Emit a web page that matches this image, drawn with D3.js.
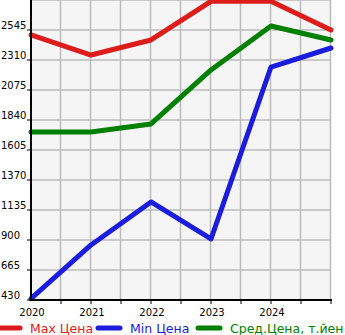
<!DOCTYPE html>
<html>
<head>
<meta charset="utf-8">
<script src="https://cdn.jsdelivr.net/npm/d3@7"></script>
<style>
  body { margin: 0; background: #fff; }
  svg { display: block; font-family: "DejaVu Sans", sans-serif; }
</style>
</head>
<body>
<div id="chart-area"></div>
<script>
// chart data
var years = [2020, 2021, 2022, 2023, 2024, 2025];
var maxPrice = [2506, 2349, 2467, 2770, 2770, 2545];
var minPrice = [440, 861, 1198, 908, 2255, 2404];
var avgPrice = [1746, 1746, 1809, 2232, 2576, 2467];
var yTicks = [430, 665, 900, 1135, 1370, 1605, 1840, 2075, 2310, 2545];
var xTickLabels = [2020, 2021, 2022, 2023, 2024];
var seriesNames = ["Max Цена", "Min Цена", "Сред.Цена, т.йен"];
var seriesColors = ["#dd1c1c", "#1c1cdd", "#008000"];

var width = 345, height = 335;
var margin = { left: 31, right: 14, top: 0, bottom: 35 };
var w = width - margin.left - margin.right,
    h = height - margin.top - margin.bottom;

var svg = d3.select("#chart-area")
    .append("svg")
        .attr("width", width)
        .attr("height", height);

var g = svg.append("g")
    .attr("transform", "translate(" + margin.left + "," + margin.top + ")");

var x = d3.scaleLinear()
    .domain([2020, 2025])
    .range([0, w]);

var y = d3.scaleLinear()
    .domain([430, 2780])
    .range([h, 0]);

// background
g.append("rect")
    .attr("width", w)
    .attr("height", h)
    .attr("fill", "#f5f5f5");

// grid every half year / every tick
var xGrid = d3.range(2020.5, 2025.01, 0.5);
g.selectAll(".vgrid").data(xGrid).enter()
    .append("line")
    .attr("x1", function(d){ return Math.round(x(d)) - 0.5; })
    .attr("x2", function(d){ return Math.round(x(d)) - 0.5; })
    .attr("y1", 0).attr("y2", h)
    .attr("stroke", "#bbb").attr("stroke-width", 1.5);

g.selectAll(".hgrid").data(yTicks.slice(1).concat([2780])).enter()
    .append("line")
    .attr("x1", 0).attr("x2", w)
    .attr("y1", function(d){ return Math.round(y(d)); })
    .attr("y2", function(d){ return Math.round(y(d)); })
    .attr("stroke", "#bbb").attr("stroke-width", 1.5);

// series lines
var line = d3.line()
    .x(function(d, i){ return x(years[i]); })
    .y(function(d){ return y(d); });

[maxPrice, minPrice, avgPrice].forEach(function(s, i) {
    g.append("path")
        .datum(s)
        .attr("d", line)
        .attr("fill", "none")
        .attr("stroke", seriesColors[i])
        .attr("stroke-width", 5)
        .attr("stroke-linejoin", "round")
        .attr("stroke-linecap", "round");
});

// Y axis
var yAxis = g.append("g");
yAxis.append("line")
    .attr("x1", 0).attr("x2", 0)
    .attr("y1", 0).attr("y2", h + 1)
    .attr("stroke", "#000").attr("stroke-width", 2);
yAxis.selectAll(".tick").data(yTicks).enter()
    .append("line")
    .attr("x1", -4).attr("x2", 0)
    .attr("y1", function(d){ return y(d); })
    .attr("y2", function(d){ return y(d); })
    .attr("stroke", "#000").attr("stroke-width", 1);
yAxis.selectAll(".lbl").data(yTicks).enter()
    .append("text")
    .attr("x", -margin.left + 1)
    .attr("y", function(d){ return y(d) - 1; })
    .attr("font-size", "10px")
    .attr("fill", "#000")
    .text(function(d){ return d; });

// X axis
var xAxis = g.append("g");
xAxis.append("line")
    .attr("x1", -1).attr("x2", w + 1)
    .attr("y1", h).attr("y2", h)
    .attr("stroke", "#000").attr("stroke-width", 2);
xAxis.selectAll(".tick").data(xGrid).enter()
    .append("line")
    .attr("x1", function(d){ return x(d); })
    .attr("x2", function(d){ return x(d); })
    .attr("y1", h).attr("y2", h + 4)
    .attr("stroke", "#000").attr("stroke-width", 1);
xAxis.selectAll(".lbl").data(xTickLabels).enter()
    .append("text")
    .attr("x", function(d){ return x(d) + 1; })
    .attr("y", h + 16)
    .attr("text-anchor", "middle")
    .attr("font-size", "10px")
    .attr("fill", "#000")
    .text(function(d){ return d; });

// legend
var legend = svg.append("g")
    .attr("transform", "translate(0," + 328 + ")");
seriesNames.forEach(function(name, i) {
    var row = legend.append("g")
        .attr("transform", "translate(" + (i * 100) + ",0)");
    row.append("line")
        .attr("x1", -2).attr("x2", 20)
        .attr("y1", 0).attr("y2", 0)
        .attr("stroke", seriesColors[i])
        .attr("stroke-width", 5)
        .attr("stroke-linecap", "round");
    row.append("text")
        .attr("x", 30)
        .attr("y", 5)
        .attr("font-size", "12.5px")
        .attr("fill", seriesColors[i])
        .text(name);
});
</script>
</body>
</html>
